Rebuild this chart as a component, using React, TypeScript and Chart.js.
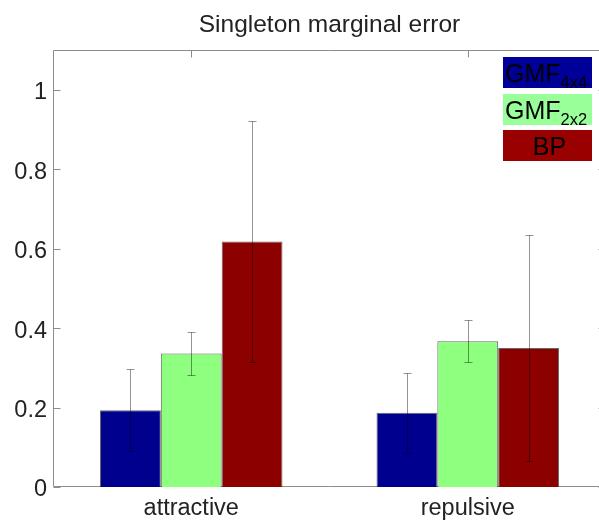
import { useEffect, useRef } from 'react';
import { Chart, registerables } from 'chart.js';

Chart.register(...registerables);

const categories = ['attractive', 'repulsive'];
const seriesNames = ['GMF', 'GMF', 'BP'];
const seriesSubscripts = ['4x4', '2x2', ''];
const gmf4Values = [0.193, 0.187];
const gmf4Errors = [0.103, 0.101];
const gmf2Values = [0.336, 0.367];
const gmf2Errors = [0.054, 0.053];
const bpValues = [0.618, 0.35];
const bpErrors = [0.303, 0.285];
const yTicks = [0, 0.2, 0.4, 0.6, 0.8, 1];
const yTickLabels = ['0', '0.2', '0.4', '0.6', '0.8', '1'];

const titleText = 'Singleton marginal error';
const FONT = '"Liberation Sans", Arial, Helvetica, sans-serif';
const barColors = ['#00008f', '#8fff80', '#8c0000'];
const legendColors = ['#000099', '#99ff99', '#990000'];
const errors = [gmf4Errors, gmf2Errors, bpErrors];

const framePlugin = {
  id: 'frame',
  beforeDatasetsDraw(chart: any) {
    const { ctx, chartArea: a, scales } = chart;
    ctx.save();
    ctx.strokeStyle = '#8c8c8c';
    ctx.lineWidth = 1;
    const L = Math.round(a.left) + 0.5;
    const R = Math.round(a.right) - 0.5;
    const T = Math.round(a.top) + 0.5;
    const B = Math.round(a.bottom) - 0.5;
    ctx.beginPath();
    ctx.moveTo(L, T);
    ctx.lineTo(R, T);
    ctx.lineTo(R, B);
    ctx.lineTo(L, B);
    ctx.closePath();
    ctx.stroke();
    ctx.beginPath();
    const tl = 7;
    yTicks.forEach((v) => {
      const y = Math.round(scales.y.getPixelForValue(v)) + 0.5;
      ctx.moveTo(L, y);
      ctx.lineTo(L + tl, y);
      ctx.moveTo(R, y);
      ctx.lineTo(R - tl, y);
    });
    categories.forEach((_, i) => {
      const x = Math.round(scales.x.getPixelForValue(i)) + 0.5;
      ctx.moveTo(x, T);
      ctx.lineTo(x, T + tl);
      ctx.moveTo(x, B);
      ctx.lineTo(x, B - tl);
    });
    ctx.stroke();
    // y tick labels
    ctx.fillStyle = '#222';
    ctx.font = `23.5px ${FONT}`;
    ctx.textAlign = 'right';
    ctx.textBaseline = 'middle';
    yTicks.forEach((v, i) => {
      const y = scales.y.getPixelForValue(v) + 3;
      ctx.fillText(yTickLabels[i], a.left - 6, y);
    });
    ctx.restore();
  },
};

const errorBarPlugin = {
  id: 'errorBars',
  afterDatasetsDraw(chart: any) {
    const { ctx, scales } = chart;
    ctx.save();
    ctx.strokeStyle = 'rgba(0,0,0,0.42)';
    ctx.lineWidth = 1;
    chart.data.datasets.forEach((ds: any, di: number) => {
      const meta = chart.getDatasetMeta(di);
      meta.data.forEach((bar: any, i: number) => {
        const v = ds.data[i];
        const e = errors[di][i];
        const x = Math.round(bar.x) + 0.5;
        const yTop = Math.round(scales.y.getPixelForValue(v + e)) + 0.5;
        const yBot = Math.round(scales.y.getPixelForValue(v - e)) + 0.5;
        ctx.beginPath();
        ctx.moveTo(x, yTop);
        ctx.lineTo(x, yBot);
        ctx.moveTo(x - 4, yTop);
        ctx.lineTo(x + 4, yTop);
        ctx.moveTo(x - 4, yBot);
        ctx.lineTo(x + 4, yBot);
        ctx.stroke();
      });
    });
    ctx.restore();
  },
};

const decorPlugin = {
  id: 'decor',
  afterDraw(chart: any) {
    const { ctx, chartArea: a } = chart;
    ctx.save();
    // title
    ctx.fillStyle = '#222';
    ctx.font = `24.5px ${FONT}`;
    ctx.textAlign = 'center';
    ctx.textBaseline = 'alphabetic';
    ctx.fillText(titleText, (a.left + a.right) / 2, 32);
    // legend
    const bx = a.right - 103;
    const bw = 89;
    const bh = 31;
    const tops = [a.top + 7, a.top + 44, a.top + 80];
    seriesNames.forEach((name, i) => {
      const top = tops[i];
      ctx.fillStyle = legendColors[i];
      ctx.fillRect(bx, top, bw, bh);
      ctx.fillStyle = '#000';
      ctx.font = `25px ${FONT}`;
      ctx.textBaseline = 'alphabetic';
      if (seriesSubscripts[i]) {
        ctx.textAlign = 'left';
        ctx.fillText(name, bx + 2, top + 25);
        const w = ctx.measureText(name).width;
        ctx.font = `16.5px ${FONT}`;
        ctx.fillText(seriesSubscripts[i], bx + 2 + w, top + 31);
      } else {
        ctx.textAlign = 'center';
        ctx.fillText(name, bx + bw / 2 + 2, top + 25);
      }
    });
    ctx.restore();
  },
};

export default function App() {
  const ref = useRef<HTMLCanvasElement>(null);
  useEffect(() => {
    const valueSets = [gmf4Values, gmf2Values, bpValues];
    const chart = new Chart(ref.current as HTMLCanvasElement, {
      type: 'bar',
      data: {
        labels: categories,
        datasets: valueSets.map((vals, i) => ({
          label: seriesNames[i] + seriesSubscripts[i],
          data: vals,
          backgroundColor: barColors[i],
          borderColor: 'rgba(40,40,40,0.7)',
          borderWidth: 1,
          categoryPercentage: 0.66,
          barPercentage: 1,
        })),
      },
      options: {
        animation: false,
        responsive: false,
        devicePixelRatio: 1,
        layout: { padding: { top: 50, left: 0, right: 0, bottom: 0 } },
        plugins: {
          legend: { display: false },
          title: { display: false },
          tooltip: { enabled: false },
        },
        scales: {
          x: {
            type: 'category',
            grid: { display: false, drawTicks: false },
            border: { display: false },
            ticks: {
              font: { family: FONT, size: 23.5 },
              color: '#222',
              padding: 7,
              maxRotation: 0,
              autoSkip: false,
            },
            afterFit: (s: any) => {
              s.height = 33;
            },
          },
          y: {
            type: 'linear',
            min: 0,
            max: 1.1,
            grid: { display: false, drawTicks: false },
            border: { display: false },
            ticks: {
              display: false,
              includeBounds: false,
            },
            afterBuildTicks: (s: any) => {
              s.ticks = yTicks.map((v) => ({ value: v }));
            },
            afterFit: (s: any) => {
              s.width = 53;
            },
          },
        },
      },
      plugins: [framePlugin, errorBarPlugin, decorPlugin],
    });
    return () => chart.destroy();
  }, []);
  return (
    <div
      style={{
        position: 'absolute',
        left: 0,
        top: 0,
        width: 599,
        height: 520,
        overflow: 'hidden',
        background: '#fff',
      }}
    >
      <canvas ref={ref} width={606} height={520} style={{ display: 'block', width: 606, height: 520 }} />
    </div>
  );
}
